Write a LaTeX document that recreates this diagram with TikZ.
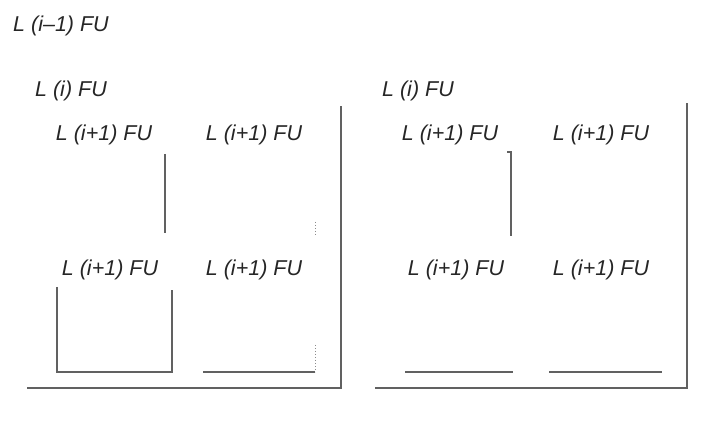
\documentclass[tikz,border=0pt]{standalone}
\usepackage{fontspec}
\setmainfont{Liberation Sans}
\begin{document}
\begin{tikzpicture}[x=1pt,y=-1pt,
  lbl/.style={font=\fontsize{21.5}{26}\selectfont\itshape, inner sep=0pt, text=black!85},
  edge/.style={draw=black!62, line width=1.6pt},
  faint/.style={draw=black!45, line width=1pt, dotted}]
\useasboundingbox (0,0) rectangle (715,427);
% labels
\node[lbl] (top)  at (61,26)  {L (i\textendash1) FU};
\node[lbl] (gL)   at (71,91)  {L (i) FU};
\node[lbl] (gR)   at (418,91) {L (i) FU};
\node[lbl] (l11)  at (104,135) {L (i+1) FU};
\node[lbl] (l12)  at (254,135) {L (i+1) FU};
\node[lbl] (l21)  at (110,270) {L (i+1) FU};
\node[lbl] (l22)  at (254,270) {L (i+1) FU};
\node[lbl] (r11)  at (450,135) {L (i+1) FU};
\node[lbl] (r12)  at (601,135) {L (i+1) FU};
\node[lbl] (r21)  at (456,270) {L (i+1) FU};
\node[lbl] (r22)  at (601,270) {L (i+1) FU};
% left L(i) box remnants
\draw[edge] (27,388) -- (341,388) -- (341,106);
\draw[edge] (165,154) -- (165,233);
\draw[edge] (57,287) -- (57,372) -- (172,372) -- (172,290);
\draw[edge] (203,372) -- (315,372);
\draw[faint] (315,345) -- (315,372);
\draw[faint] (315,222) -- (315,235);
% right L(i) box remnants
\draw[edge] (375,388) -- (687,388) -- (687,103);
\draw[edge] (507,152) -- (511,152) -- (511,236);
\draw[edge] (405,372) -- (513,372);
\draw[edge] (549,372) -- (662,372);
\end{tikzpicture}
\end{document}
